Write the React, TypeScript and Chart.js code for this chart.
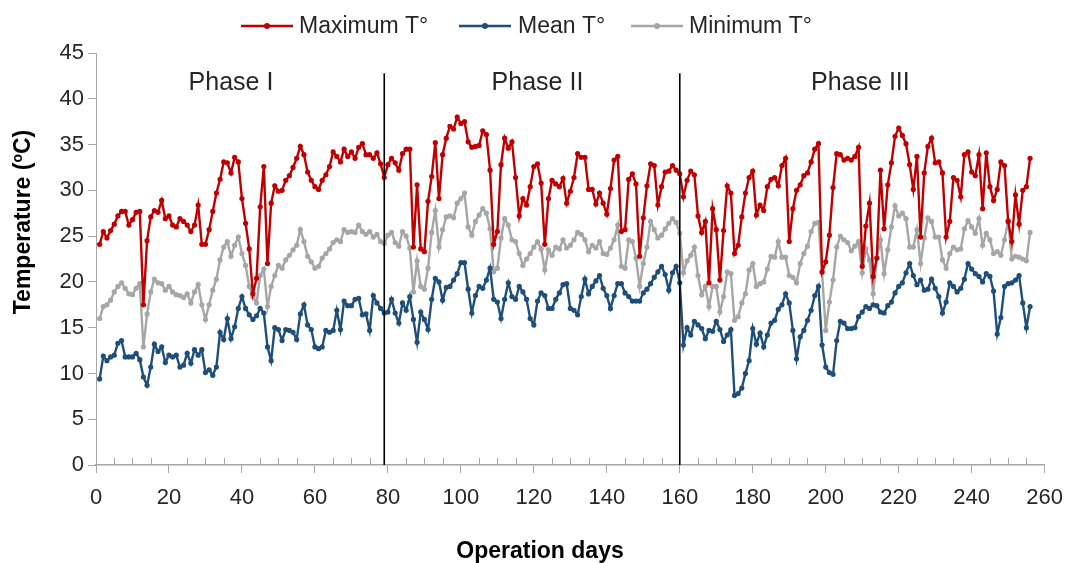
import React, { useEffect, useRef } from 'react';
import { Chart, registerables } from 'chart.js';

Chart.register(...registerables);

// ---------- data ----------
const maxT = [
  24.1, 25.5, 24.8, 25.6, 26.3, 27.2, 27.7, 27.7, 26.2, 26.8,
  27.6, 27.7, 17.5, 24.5, 27.1, 27.8, 27.6, 28.9, 26.9, 27.2,
  26.2, 26.0, 26.9, 26.6, 26.2, 25.5, 26.2, 28.4, 24.1, 24.1,
  25.7, 27.7, 29.7, 31.2, 33.1, 33.0, 31.9, 33.6, 33.1, 29.1,
  26.4, 23.6, 18.7, 20.4, 28.2, 32.6, 22.0, 28.6, 30.5, 29.9,
  30.0, 31.1, 31.6, 32.5, 33.5, 34.8, 33.9, 32.0, 31.1, 30.4,
  30.1, 31.1, 31.7, 32.6, 34.2, 33.7, 33.1, 34.5, 33.7, 34.2,
  33.5, 34.7, 35.1, 33.9, 33.9, 33.5, 34.1, 32.9, 31.4, 32.8,
  33.5, 33.0, 32.2, 34.0, 34.5, 34.5, 23.8, 30.6, 23.6, 23.3,
  28.8, 31.5, 35.2, 29.1, 33.9, 35.7, 37.0, 36.7, 38.0, 37.3,
  37.5, 35.3, 34.7, 34.8, 34.9, 36.5, 36.1, 32.2, 24.1, 25.5,
  32.8, 35.7, 34.6, 35.3, 31.4, 27.2, 29.1, 28.4, 30.4, 32.6,
  32.9, 30.8, 24.1, 29.1, 31.1, 30.7, 30.4, 31.3, 28.6, 29.9,
  31.4, 34.0, 33.6, 33.6, 30.1, 30.1, 28.5, 29.7, 28.6, 27.4,
  30.2, 33.3, 33.7, 25.5, 25.7, 31.2, 31.8, 30.7, 22.8, 27.0,
  30.5, 32.9, 32.7, 28.4, 30.4, 32.0, 32.1, 32.7, 32.2, 31.8,
  29.3, 31.1, 32.1, 31.7, 27.2, 25.4, 26.6, 19.9, 28.0, 25.7,
  20.2, 25.6, 30.5, 29.7, 23.1, 24.0, 27.1, 29.7, 31.4, 32.1,
  27.3, 28.4, 27.8, 30.4, 31.2, 31.4, 30.5, 32.7, 33.5, 24.4,
  28.0, 30.0, 30.6, 31.6, 31.9, 33.1, 34.5, 35.1, 21.1, 22.2,
  25.1, 30.3, 34.0, 33.9, 33.3, 33.5, 33.3, 33.7, 34.7, 21.7,
  26.1, 28.6, 20.6, 22.6, 32.2, 25.8, 30.6, 33.0, 35.9, 36.8,
  36.0, 35.1, 32.8, 30.1, 33.7, 24.9, 31.9, 34.8, 35.7, 33.0,
  33.1, 31.9, 24.9, 26.6, 31.4, 31.1, 29.3, 33.9, 34.2, 32.0,
  31.6, 33.9, 28.0, 34.1, 30.4, 28.9, 30.1, 33.1, 32.7, 26.6,
  24.4, 29.5, 26.3, 30.0, 30.4, 33.5,
];

const meanT = [
  9.4, 11.9, 11.4, 11.8, 12.0, 13.3, 13.6, 11.8, 11.8, 11.8,
  12.2, 11.5, 9.6, 8.7, 10.7, 13.2, 12.4, 12.9, 11.2, 12.0,
  11.8, 12.0, 10.7, 10.9, 12.2, 11.1, 12.6, 12.0, 12.6, 10.1,
  10.4, 9.8, 10.7, 14.5, 13.7, 16.0, 13.8, 15.1, 17.1, 18.4,
  17.1, 16.4, 15.9, 16.3, 17.1, 16.6, 12.9, 11.4, 15.0, 14.8,
  13.6, 14.8, 14.7, 14.5, 13.7, 16.5, 17.5, 15.3, 14.8, 12.9,
  12.7, 12.9, 14.7, 14.5, 14.7, 16.9, 14.8, 17.9, 17.4, 17.4,
  18.1, 18.2, 16.4, 16.5, 14.7, 18.5, 17.7, 17.1, 16.6, 16.7,
  18.1, 16.6, 15.5, 17.7, 16.9, 18.4, 15.9, 13.4, 16.7, 15.9,
  14.8, 18.1, 20.4, 20.0, 18.0, 19.4, 19.5, 20.2, 20.9, 22.1,
  22.1, 19.2, 16.6, 18.5, 19.5, 19.3, 20.2, 21.5, 18.1, 17.8,
  16.0, 18.1, 19.9, 18.4, 18.1, 19.5, 18.9, 18.1, 16.0, 15.3,
  17.9, 18.8, 18.5, 17.1, 17.1, 18.1, 18.8, 19.7, 19.8, 17.1,
  16.9, 16.4, 18.4, 20.3, 18.7, 19.5, 20.1, 20.7, 19.3, 18.5,
  17.1, 18.5, 19.8, 19.8, 18.8, 18.4, 17.9, 17.9, 17.9, 18.8,
  19.2, 19.8, 20.5, 21.1, 21.7, 20.8, 19.1, 21.0, 21.7, 19.9,
  13.1, 15.0, 14.2, 15.7, 15.3, 14.9, 13.8, 14.7, 14.6, 15.7,
  14.8, 13.5, 14.2, 14.8, 7.6, 7.8, 8.4, 10.0, 11.4, 14.9,
  13.2, 14.4, 12.9, 14.2, 15.5, 15.8, 17.0, 17.5, 18.7, 17.7,
  14.7, 11.6, 14.0, 14.7, 15.8, 16.9, 18.5, 19.5, 13.1, 10.7,
  10.1, 9.9, 13.6, 15.7, 15.5, 14.9, 14.9, 15.0, 16.2, 16.7,
  17.3, 17.1, 17.5, 17.4, 16.7, 16.6, 17.4, 17.8, 18.8, 19.5,
  19.9, 21.0, 22.0, 20.7, 19.7, 20.2, 19.1, 19.2, 20.3, 19.3,
  18.4, 16.6, 17.8, 19.9, 19.5, 18.9, 19.3, 20.3, 22.0, 21.4,
  20.9, 20.6, 20.0, 20.9, 20.6, 19.0, 14.3, 16.1, 19.5, 19.8,
  19.9, 20.2, 20.7, 17.7, 15.0, 17.3,
];

const minT = [
  16.0, 17.3, 17.5, 18.0, 18.9, 19.5, 19.9, 19.3, 18.7, 18.6,
  19.3, 19.8, 12.9, 16.5, 18.9, 20.3, 19.9, 19.8, 19.1, 19.5,
  18.9, 18.6, 18.5, 18.3, 18.7, 17.7, 18.9, 19.7, 17.5, 15.9,
  17.5, 19.1, 20.3, 22.4, 23.8, 24.4, 22.8, 24.0, 24.9, 23.1,
  21.8, 19.5, 18.4, 17.7, 20.7, 21.4, 17.3, 19.5, 20.7, 21.8,
  21.5, 22.4, 22.9, 23.5, 24.0, 25.7, 24.4, 22.8, 22.2, 21.5,
  21.7, 22.6, 23.1, 23.6, 24.3, 24.6, 24.4, 25.7, 25.4, 25.5,
  25.4, 26.2, 25.5, 25.2, 25.5, 24.9, 25.2, 24.4, 24.2, 25.1,
  25.4, 24.3, 23.9, 25.5, 25.0, 23.7, 18.9, 22.3, 19.5, 19.2,
  21.5, 25.4, 27.8, 23.8, 25.7, 27.1, 27.2, 27.0, 28.6, 29.1,
  29.7, 26.0, 25.1, 26.6, 27.3, 28.0, 27.5, 25.8, 21.1, 21.5,
  24.8, 26.9, 26.2, 24.6, 24.4, 23.1, 21.8, 22.5, 23.1, 23.8,
  24.4, 23.6, 21.3, 23.5, 22.9, 23.8, 23.6, 24.6, 23.7, 24.0,
  24.6, 25.4, 25.2, 24.6, 23.3, 24.0, 23.7, 24.4, 23.1, 23.0,
  23.7, 24.6, 26.2, 21.7, 21.5, 24.6, 24.4, 22.6, 19.5, 22.0,
  23.8, 26.6, 25.7, 24.8, 25.1, 25.8, 26.4, 26.9, 26.5, 25.3,
  21.0, 22.3, 22.9, 23.8, 20.7, 18.6, 19.5, 17.3, 19.5, 19.5,
  16.7, 18.4, 21.1, 20.9, 15.8, 16.2, 17.7, 18.7, 21.3, 22.0,
  19.5, 19.8, 20.0, 21.4, 22.8, 22.7, 24.4, 22.7, 22.7, 20.7,
  20.5, 19.9, 22.0, 23.1, 23.9, 25.5, 26.4, 26.5, 21.0, 14.7,
  17.8, 20.2, 23.8, 25.0, 24.6, 24.3, 23.4, 23.9, 24.4, 21.0,
  23.6, 22.4, 18.7, 22.6, 24.6, 20.9, 23.5, 26.0, 28.3, 27.2,
  27.5, 26.9, 23.8, 23.8, 25.7, 22.0, 24.8, 27.0, 26.6, 24.9,
  24.9, 22.4, 21.5, 23.1, 23.8, 23.5, 23.6, 25.8, 26.7, 26.0,
  25.3, 26.9, 24.0, 25.3, 24.6, 23.1, 23.3, 22.9, 24.6, 26.7,
  22.5, 22.8, 22.7, 22.5, 22.3, 25.4,
];

const days = maxT.map((_, i) => i + 1);

const seriesNames = ['Maximum T°', 'Mean T°', 'Minimum T°'];
const seriesColors = ['#C00000', '#1F4E79', '#A6A6A6'];

const phaseBounds = [79, 160];
const phaseTop = 42.8;
const phaseNames = ['Phase I', 'Phase II', 'Phase III'];
const phaseCenters = [37, 121, 209.5];
const phaseLabelY = 41.7;

const xTitle = 'Operation days';
const yTitleParts = ['Temperature (', 'o', 'C)'];

// ---------- styling ----------
const FONT = '"Liberation Sans", Arial, sans-serif';
const TEXT = '#262626';
const AXIS = '#A6A6A6';

const legendLineStarts = [241, 459, 631];
const legendTextStarts = [299, 518, 689];

const decorations = {
  id: 'decorations',
  afterDatasetsDraw(chart: any) {
    const { ctx, scales } = chart;
    const x = scales.x;
    const y = scales.y;
    ctx.save();

    // minor tick marks (every 5 days, inside the plot)
    ctx.strokeStyle = AXIS;
    ctx.lineWidth = 1;
    for (let v = 5; v < 260; v += 5) {
      if (v % 20 === 0) continue;
      const px = Math.round(x.getPixelForValue(v)) + 0.5;
      ctx.beginPath();
      ctx.moveTo(px, y.bottom);
      ctx.lineTo(px, y.bottom - 7);
      ctx.stroke();
    }

    // phase separators
    ctx.strokeStyle = '#000';
    ctx.lineWidth = 1.6;
    phaseBounds.forEach((d) => {
      const px = x.getPixelForValue(d);
      ctx.beginPath();
      ctx.moveTo(px, y.getPixelForValue(phaseTop));
      ctx.lineTo(px, y.getPixelForValue(0));
      ctx.stroke();
    });

    // phase labels
    ctx.fillStyle = TEXT;
    ctx.font = `25px ${FONT}`;
    ctx.textAlign = 'center';
    ctx.textBaseline = 'middle';
    phaseNames.forEach((n, i) => {
      ctx.fillText(n, x.getPixelForValue(phaseCenters[i]), y.getPixelForValue(phaseLabelY));
    });

    // legend
    const ly = 26;
    ctx.font = `23px ${FONT}`;
    ctx.textAlign = 'left';
    seriesNames.forEach((name, i) => {
      const x0 = legendLineStarts[i];
      ctx.strokeStyle = seriesColors[i];
      ctx.lineWidth = 2.6;
      ctx.beginPath();
      ctx.moveTo(x0, ly);
      ctx.lineTo(x0 + 52, ly);
      ctx.stroke();
      ctx.fillStyle = seriesColors[i];
      ctx.beginPath();
      ctx.arc(x0 + 26, ly, 3, 0, Math.PI * 2);
      ctx.fill();
      ctx.fillStyle = TEXT;
      ctx.fillText(name, legendTextStarts[i], ly + 1);
    });

    // x title
    ctx.font = `bold 23px ${FONT}`;
    ctx.textAlign = 'center';
    ctx.fillStyle = '#000';
    ctx.fillText(xTitle, 540, 552);

    // y title (rotated, with superscript o)
    ctx.save();
    ctx.translate(24, 222);
    ctx.rotate(-Math.PI / 2);
    const big = `bold 23px ${FONT}`;
    const small = `bold 14px ${FONT}`;
    ctx.font = big;
    const w0 = ctx.measureText(yTitleParts[0]).width;
    const w2 = ctx.measureText(yTitleParts[2]).width;
    ctx.font = small;
    const w1 = ctx.measureText(yTitleParts[1]).width;
    let cx = -(w0 + w1 + w2) / 2;
    ctx.textAlign = 'left';
    ctx.font = big;
    ctx.fillText(yTitleParts[0], cx, 0);
    cx += w0;
    ctx.font = small;
    ctx.fillText(yTitleParts[1], cx, -6);
    cx += w1;
    ctx.font = big;
    ctx.fillText(yTitleParts[2], cx, 0);
    ctx.restore();

    ctx.restore();
  },
};

function makeDataset(label: string, values: number[], color: string, order: number) {
  return {
    label,
    data: values.map((v, i) => ({ x: days[i], y: v })),
    borderColor: color,
    backgroundColor: color,
    pointBackgroundColor: color,
    pointBorderColor: color,
    pointBorderWidth: 0,
    pointRadius: 2.6,
    borderWidth: 2.4,
    tension: 0,
    fill: false,
    order,
  };
}

export default function App() {
  const canvasRef = useRef<HTMLCanvasElement | null>(null);

  useEffect(() => {
    if (!canvasRef.current) return;
    const chart = new Chart(canvasRef.current, {
      type: 'line',
      data: {
        datasets: [
          makeDataset(seriesNames[0], maxT, seriesColors[0], 1),
          makeDataset(seriesNames[1], meanT, seriesColors[1], 2),
          makeDataset(seriesNames[2], minT, seriesColors[2], 3),
        ],
      },
      options: {
        responsive: false,
        animation: false,
        events: [],
        layout: { padding: { top: 53, right: 25, left: 0, bottom: 0 } },
        plugins: {
          legend: { display: false },
          tooltip: { enabled: false },
          title: { display: false },
        },
        scales: {
          x: {
            type: 'linear',
            min: 0,
            max: 260,
            afterFit: (s: any) => {
              s.height = 98;
            },
            ticks: {
              stepSize: 5,
              autoSkip: false,
              maxTicksLimit: 100,
              maxRotation: 0,
              minRotation: 0,
              padding: 12,
              color: TEXT,
              font: { family: FONT, size: 22 },
              callback: (v: any) => (Number(v) % 20 === 0 ? String(v) : ''),
            },
            grid: {
              drawOnChartArea: false,
              drawTicks: true,
              tickLength: 8,
              lineWidth: 1,
              color: (c: any) =>
                c.tick && Number(c.tick.value) % 20 === 0 ? AXIS : 'rgba(0,0,0,0)',
            },
            border: { display: true, color: AXIS, width: 1.5 },
          },
          y: {
            min: 0,
            max: 45,
            afterFit: (s: any) => {
              s.width = 96;
            },
            ticks: {
              stepSize: 5,
              padding: 4,
              color: TEXT,
              font: { family: FONT, size: 22 },
            },
            grid: {
              drawOnChartArea: false,
              drawTicks: true,
              tickLength: 8,
              color: AXIS,
            },
            border: { display: true, color: AXIS, width: 1 },
          },
        },
      } as any,
      plugins: [decorations],
    });
    return () => chart.destroy();
  }, []);

  return (
    <div style={{ position: 'absolute', left: 0, top: 0, width: 1075, height: 563, background: '#fff' }}>
      <canvas ref={canvasRef} width={1075} height={563} style={{ width: 1075, height: 563, display: 'block' }} />
    </div>
  );
}
